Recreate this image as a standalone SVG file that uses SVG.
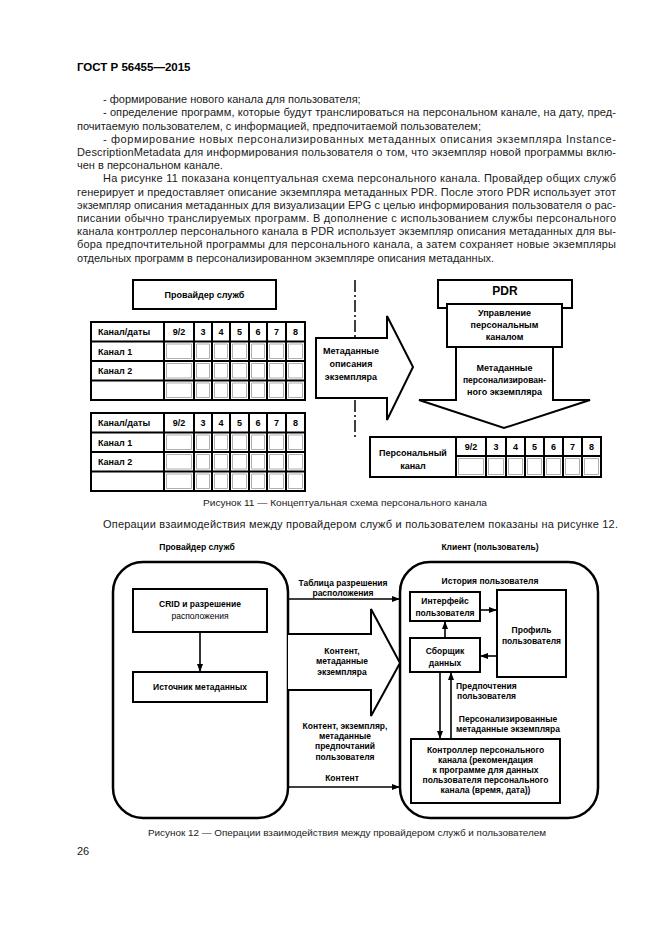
<svg xmlns="http://www.w3.org/2000/svg" width="661" height="935" viewBox="0 0 661 935">
<defs>
<style>
.pg{font-family:"Liberation Sans",Arial,sans-serif;font-size:11px;fill:#1a1a1a}
.cap{font-family:"Liberation Sans",Arial,sans-serif;font-size:9.5px;fill:#1a1a1a;text-anchor:middle}
.t9{font-family:"Liberation Sans",Arial,sans-serif;font-size:9px;font-weight:bold;fill:#000}
.c9{font-family:"Liberation Sans",Arial,sans-serif;font-size:9px;font-weight:bold;fill:#000;text-anchor:middle}
.f8{font-family:"Liberation Sans",Arial,sans-serif;font-size:8.5px;font-weight:bold;fill:#000;text-anchor:middle}
.box{fill:#fff;stroke:#000;stroke-width:2}
.rbox{fill:none;stroke:#000;stroke-width:2.5}
.grid{fill:none;stroke:#000;stroke-width:2}
.cell{fill:none;stroke:#9a9a9a;stroke-width:0.8}
.blk{fill:#fff;stroke:#000;stroke-width:2;stroke-linejoin:miter}
.ln{fill:none;stroke:#000;stroke-width:1.6}
</style>
<marker id="ah" viewBox="0 0 8 6" refX="8" refY="3" markerWidth="8" markerHeight="6" markerUnits="userSpaceOnUse" orient="auto"><path d="M0,0 L8,3 L0,6 z" fill="#000"/></marker>
</defs>
<rect width="661" height="935" fill="#fff"/>

<g id="page-text">
<text x="77" y="71" class="pg" style="font-weight:bold;font-size:11.5px;fill:#000">ГОСТ Р 56455—2015</text>
<text x="103" y="103" class="pg">- формирование нового канала для пользователя;</text>
<text x="103" y="116" class="pg" textLength="513" lengthAdjust="spacing">- определение программ, которые будут транслироваться на персональном канале, на дату, пред-</text>
<text x="77" y="129.5" class="pg">почитаемую пользователем, с информацией, предпочитаемой пользователем;</text>
<text x="103" y="142.5" class="pg" textLength="513" lengthAdjust="spacing">- формирование новых персонализированных метаданных описания экземпляра Instance-</text>
<text x="77" y="156" class="pg" textLength="539" lengthAdjust="spacing">DescriptionMetadata для информирования пользователя о том, что экземпляр новой программы вклю-</text>
<text x="77" y="169" class="pg">чен в персональном канале.</text>
<text x="103" y="182" class="pg" textLength="513" lengthAdjust="spacing">На рисунке 11 показана концептуальная схема персонального канала. Провайдер общих служб</text>
<text x="77" y="195.5" class="pg" textLength="539" lengthAdjust="spacing">генерирует и предоставляет описание экземпляра метаданных PDR. После этого PDR использует этот</text>
<text x="77" y="208.5" class="pg" textLength="539" lengthAdjust="spacing">экземпляр описания метаданных для визуализации EPG с целью информирования пользователя о рас-</text>
<text x="77" y="222" class="pg" textLength="539" lengthAdjust="spacing">писании обычно транслируемых программ. В дополнение с использованием службы персонального</text>
<text x="77" y="235" class="pg" textLength="539" lengthAdjust="spacing">канала контроллер персонального канала в PDR использует экземпляр описания метаданных для вы-</text>
<text x="77" y="248" class="pg" textLength="539" lengthAdjust="spacing">бора предпочтительной программы для персонального канала, а затем сохраняет новые экземпляры</text>
<text x="77" y="261.5" class="pg">отдельных программ в персонализированном экземпляре описания метаданных.</text>
<text x="345" y="506" class="cap" textLength="284" lengthAdjust="spacingAndGlyphs">Рисунок 11 — Концептуальная схема персонального канала</text>
<text x="103" y="528" class="pg" textLength="515" lengthAdjust="spacing">Операции взаимодействия между провайдером служб и пользователем показаны на рисунке 12.</text>
<text x="347" y="836" class="cap" textLength="398" lengthAdjust="spacingAndGlyphs">Рисунок 12 — Операции взаимодействия между провайдером служб и пользователем</text>
<text x="77" y="855" class="pg">26</text>
</g>

<!-- Figure 11 -->
<g id="fig11-divider">
<line x1="355" y1="280" x2="355" y2="438" stroke="#000" stroke-width="1.5" stroke-dasharray="12 3 2 3"/>
</g>

<g id="provider-11">
<rect x="133" y="280" width="143" height="29" class="box"/>
<text x="204.5" y="298" class="c9">Провайдер служб</text>
</g>

<g id="table-1">
<rect x="91" y="322" width="214" height="78" class="grid"/>
<path class="grid" d="M91,341.5H305M91,361H305M91,380.5H305M164,322V400M194,322V400M212,322V400M230,322V400M249,322V400M267,322V400M286,322V400"/>
<path class="cell" d="M166.5,344h25v14.5h-25zM196.5,344h13v14.5h-13zM214.5,344h13v14.5h-13zM232.5,344h14v14.5h-14zM251.5,344h13v14.5h-13zM269.5,344h14v14.5h-14zM288.5,344h14v14.5h-14z
M166.5,363.5h25v14.5h-25zM196.5,363.5h13v14.5h-13zM214.5,363.5h13v14.5h-13zM232.5,363.5h14v14.5h-14zM251.5,363.5h13v14.5h-13zM269.5,363.5h14v14.5h-14zM288.5,363.5h14v14.5h-14z
M166.5,383h25v14.5h-25zM196.5,383h13v14.5h-13zM214.5,383h13v14.5h-13zM232.5,383h14v14.5h-14zM251.5,383h13v14.5h-13zM269.5,383h14v14.5h-14zM288.5,383h14v14.5h-14z"/>
<text x="98" y="335" class="t9">Канал/даты</text>
<text x="179" y="335" class="c9">9/2</text>
<text x="203" y="335" class="c9">3</text>
<text x="221" y="335" class="c9">4</text>
<text x="239.5" y="335" class="c9">5</text>
<text x="258" y="335" class="c9">6</text>
<text x="276.5" y="335" class="c9">7</text>
<text x="295.5" y="335" class="c9">8</text>
<text x="98" y="354.5" class="t9">Канал 1</text>
<text x="98" y="374" class="t9">Канал 2</text>
</g>

<g id="table-2">
<rect x="91" y="413" width="214" height="78" class="grid"/>
<path class="grid" d="M91,432.5H305M91,452H305M91,471.5H305M164,413V491M194,413V491M212,413V491M230,413V491M249,413V491M267,413V491M286,413V491"/>
<path class="cell" d="M166.5,435h25v14.5h-25zM196.5,435h13v14.5h-13zM214.5,435h13v14.5h-13zM232.5,435h14v14.5h-14zM251.5,435h13v14.5h-13zM269.5,435h14v14.5h-14zM288.5,435h14v14.5h-14z
M166.5,454.5h25v14.5h-25zM196.5,454.5h13v14.5h-13zM214.5,454.5h13v14.5h-13zM232.5,454.5h14v14.5h-14zM251.5,454.5h13v14.5h-13zM269.5,454.5h14v14.5h-14zM288.5,454.5h14v14.5h-14z
M166.5,474h25v14.5h-25zM196.5,474h13v14.5h-13zM214.5,474h13v14.5h-13zM232.5,474h14v14.5h-14zM251.5,474h13v14.5h-13zM269.5,474h14v14.5h-14zM288.5,474h14v14.5h-14z"/>
<text x="98" y="426" class="t9">Канал/даты</text>
<text x="179" y="426" class="c9">9/2</text>
<text x="203" y="426" class="c9">3</text>
<text x="221" y="426" class="c9">4</text>
<text x="239.5" y="426" class="c9">5</text>
<text x="258" y="426" class="c9">6</text>
<text x="276.5" y="426" class="c9">7</text>
<text x="295.5" y="426" class="c9">8</text>
<text x="98" y="445.5" class="t9">Канал 1</text>
<text x="98" y="465" class="t9">Канал 2</text>
</g>

<g id="pdr">
<rect x="438" y="280" width="134" height="28" class="box"/>
<text x="505" y="295" class="c9" style="font-size:12px">PDR</text>
</g>

<g id="channel-mgmt">
<rect x="447" y="304" width="115" height="43" class="box"/>
<text x="504.5" y="316" class="c9">Управление</text>
<text x="504.5" y="328" class="c9">персональным</text>
<text x="504.5" y="340" class="c9">каналом</text>
</g>

<g id="personal-table">
<rect x="370" y="437" width="231" height="40" class="grid"/>
<path class="grid" d="M456,456H601M456,437V477M486,437V477M506,437V477M525,437V477M544,437V477M563,437V477M582,437V477"/>
<path class="cell" d="M458.5,458.5h25v16h-25zM488.5,458.5h15v16h-15zM508.5,458.5h14v16h-14zM527.5,458.5h14v16h-14zM546.5,458.5h14v16h-14zM565.5,458.5h14v16h-14zM584.5,458.5h14v16h-14z"/>
<text x="413" y="456" class="c9">Персональный</text>
<text x="413" y="469" class="c9">канал</text>
<text x="471" y="450" class="c9">9/2</text>
<text x="496" y="450" class="c9">3</text>
<text x="515.5" y="450" class="c9">4</text>
<text x="534.5" y="450" class="c9">5</text>
<text x="553.5" y="450" class="c9">6</text>
<text x="572.5" y="450" class="c9">7</text>
<text x="591.5" y="450" class="c9">8</text>
</g>

<!-- Figure 12 nodes -->
<g id="provider-12">
<text x="197" y="550" class="f8">Провайдер служб</text>
<rect x="113" y="562" width="175" height="256" rx="30" ry="30" class="rbox"/>
</g>

<g id="client">
<text x="490" y="550" class="f8">Клиент (пользователь)</text>
<rect x="400" y="562" width="198" height="256" rx="30" ry="30" class="rbox"/>
<text x="490" y="584" class="f8">История пользователя</text>
</g>

<g id="crid">
<rect x="133" y="589" width="134" height="43" class="box"/>
<text x="200" y="607" class="f8">CRID и разрешение</text>
<text x="200" y="619" class="f8" style="font-weight:normal">расположения</text>
</g>

<g id="metadata-source">
<rect x="133" y="672" width="134" height="30" class="box"/>
<text x="200" y="690" class="f8">Источник метаданных</text>
</g>

<g id="user-interface">
<rect x="410" y="592" width="70" height="29" class="box"/>
<text x="445" y="604" class="f8">Интерфейс</text>
<text x="445" y="616" class="f8">пользователя</text>
</g>

<g id="user-profile">
<rect x="497" y="590" width="69" height="87" class="box"/>
<text x="531.5" y="633" class="f8">Профиль</text>
<text x="531.5" y="644" class="f8">пользователя</text>
</g>

<g id="data-collector">
<rect x="410" y="638" width="70" height="34" class="box"/>
<text x="445" y="654" class="f8">Сборщик</text>
<text x="445" y="666" class="f8">данных</text>
</g>

<g id="channel-controller">
<rect x="411" y="739" width="149" height="64" class="box"/>
<text x="485.5" y="753" class="f8">Контроллер персонального</text>
<text x="485.5" y="763" class="f8">канала (рекомендация</text>
<text x="485.5" y="773" class="f8">к программе для данных</text>
<text x="485.5" y="783" class="f8">пользователя персонального</text>
<text x="485.5" y="793" class="f8">канала (время, дата))</text>
</g>

<g id="connectors">
<!-- Figure 11 block arrows -->
<polygon class="blk" points="316,338 387,338 387,316 413,367 387,420 387,398 316,398"/>
<text x="351" y="354" class="c9">Метаданные</text>
<text x="351" y="367" class="c9">описания</text>
<text x="351" y="380" class="c9">экземпляра</text>
<polygon class="blk" points="456,347 553,347 553,400 590,400 504,428 419,400 456,400"/>
<text x="504.5" y="371" class="c9">Метаданные</text>
<text x="504.5" y="383" class="c9" style="font-size:8.5px">персонализирован-</text>
<text x="504.5" y="395" class="c9">ного экземпляра</text>

<!-- Figure 12 -->
<line x1="200" y1="632" x2="200" y2="672" class="ln" marker-end="url(#ah)"/>
<line x1="288" y1="599" x2="400" y2="599" class="ln" marker-end="url(#ah)"/>
<text x="343" y="586" class="f8">Таблица разрешения</text>
<text x="343" y="596" class="f8">расположения</text>
<path d="M288,634H371V609L400,663L371,716V690H288" fill="#fff" stroke="#000" stroke-width="2" stroke-linejoin="miter"/>
<text x="342" y="654" class="f8">Контент,</text>
<text x="342" y="664" class="f8">метаданные</text>
<text x="342" y="675" class="f8">экземпляра</text>
<text x="345" y="729" class="f8">Контент, экземпляр,</text>
<text x="345" y="739" class="f8">метаданные</text>
<text x="345" y="749" class="f8">предпочтаний</text>
<text x="345" y="760" class="f8">пользователя</text>
<text x="342" y="781" class="f8">Контент</text>
<line x1="288" y1="787" x2="400" y2="787" class="ln" marker-end="url(#ah)"/>
<line x1="480" y1="610" x2="497" y2="610" class="ln" marker-end="url(#ah)"/>
<line x1="497" y1="656" x2="480" y2="656" class="ln" marker-end="url(#ah)"/>
<line x1="445" y1="638" x2="445" y2="621" class="ln" marker-end="url(#ah)"/>
<line x1="440" y1="672" x2="440" y2="739" class="ln" marker-end="url(#ah)"/>
<line x1="451" y1="739" x2="451" y2="672" class="ln" marker-end="url(#ah)"/>
<text x="456" y="689" class="f8" style="text-anchor:start">Предпочтения</text>
<text x="457" y="699" class="f8" style="text-anchor:start">пользователя</text>
<text x="508" y="722" class="f8">Персонализированные</text>
<text x="508" y="732" class="f8">метаданные экземпляра</text>
</g>
</svg>
